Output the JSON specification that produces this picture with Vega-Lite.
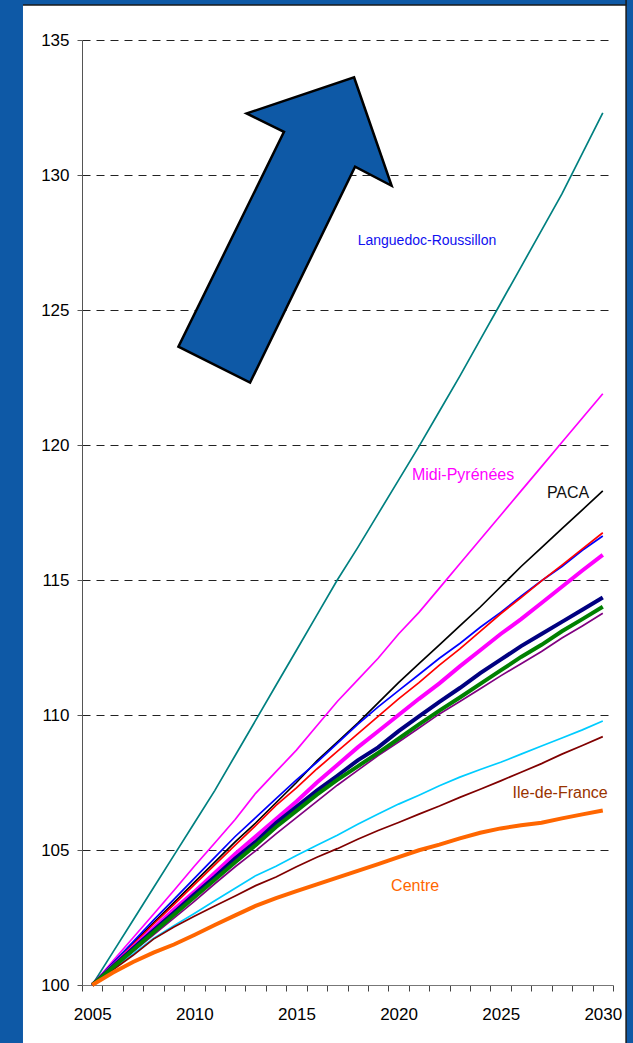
{
  "$schema": "https://vega.github.io/schema/vega-lite/v6.json",
  "width": 531,
  "height": 945,
  "autosize": {"type": "none"},
  "padding": {"left": 82, "top": 40, "right": 20, "bottom": 58},
  "background": "white",
  "config": {"view": {"stroke": null}, "font": "Liberation Sans"},
  "datasets": {
    "series": [
      {"year": 2005, "Série 1": 100, "Midi-Pyrénées": 100, "PACA": 100, "Languedoc-Roussillon": 100, "Série 2": 100, "Série 3": 100, "Série 4": 100, "Série 5": 100, "Série 6": 100, "Série 7": 100, "Ile-de-France": 100, "Centre": 100},
      {"year": 2006, "Série 1": 101.2, "Midi-Pyrénées": 100.88, "PACA": 100.8, "Languedoc-Roussillon": 100.8, "Série 2": 100.75, "Série 3": 100.7, "Série 4": 100.68, "Série 5": 100.65, "Série 6": 100.62, "Série 7": 100.58, "Ile-de-France": 100.55, "Centre": 100.45},
      {"year": 2007, "Série 1": 102.4, "Midi-Pyrénées": 101.75, "PACA": 101.55, "Languedoc-Roussillon": 101.6, "Série 2": 101.5, "Série 3": 101.4, "Série 4": 101.35, "Série 5": 101.3, "Série 6": 101.24, "Série 7": 101.15, "Ile-de-France": 101.1, "Centre": 100.85},
      {"year": 2008, "Série 1": 103.6, "Midi-Pyrénées": 102.62, "PACA": 102.3, "Languedoc-Roussillon": 102.4, "Série 2": 102.25, "Série 3": 102.1, "Série 4": 102.02, "Série 5": 101.95, "Série 6": 101.86, "Série 7": 101.72, "Ile-de-France": 101.7, "Centre": 101.2},
      {"year": 2009, "Série 1": 104.8, "Midi-Pyrénées": 103.5, "PACA": 103.05, "Languedoc-Roussillon": 103.17, "Série 2": 102.98, "Série 3": 102.8, "Série 4": 102.68, "Série 5": 102.6, "Série 6": 102.48, "Série 7": 102.2, "Ile-de-France": 102.15, "Centre": 101.5},
      {"year": 2010, "Série 1": 106.0, "Midi-Pyrénées": 104.4, "PACA": 103.8, "Languedoc-Roussillon": 103.95, "Série 2": 103.72, "Série 3": 103.45, "Série 4": 103.35, "Série 5": 103.25, "Série 6": 103.1, "Série 7": 102.65, "Ile-de-France": 102.55, "Centre": 101.85},
      {"year": 2011, "Série 1": 107.2, "Midi-Pyrénées": 105.26, "PACA": 104.55, "Languedoc-Roussillon": 104.73, "Série 2": 104.45, "Série 3": 104.15, "Série 4": 104.0, "Série 5": 103.9, "Série 6": 103.75, "Série 7": 103.12, "Ile-de-France": 102.93, "Centre": 102.22},
      {"year": 2012, "Série 1": 108.5, "Midi-Pyrénées": 106.13, "PACA": 105.3, "Languedoc-Roussillon": 105.5, "Série 2": 105.18, "Série 3": 104.85, "Série 4": 104.68, "Série 5": 104.55, "Série 6": 104.38, "Série 7": 103.58, "Ile-de-France": 103.3, "Centre": 102.58},
      {"year": 2013, "Série 1": 109.8, "Midi-Pyrénées": 107.1, "PACA": 106.0, "Languedoc-Roussillon": 106.2, "Série 2": 105.9, "Série 3": 105.5, "Série 4": 105.3, "Série 5": 105.18, "Série 6": 104.97, "Série 7": 104.05, "Ile-de-France": 103.68, "Centre": 102.93},
      {"year": 2014, "Série 1": 111.1, "Midi-Pyrénées": 107.9, "PACA": 106.75, "Languedoc-Roussillon": 106.9, "Série 2": 106.65, "Série 3": 106.15, "Série 4": 106.0, "Série 5": 105.85, "Série 6": 105.6, "Série 7": 104.4, "Ile-de-France": 104.0, "Centre": 103.22},
      {"year": 2015, "Série 1": 112.4, "Midi-Pyrénées": 108.7, "PACA": 107.5, "Languedoc-Roussillon": 107.6, "Série 2": 107.3, "Série 3": 106.8, "Série 4": 106.6, "Série 5": 106.45, "Série 6": 106.2, "Série 7": 104.8, "Ile-de-France": 104.38, "Centre": 103.48},
      {"year": 2016, "Série 1": 113.7, "Midi-Pyrénées": 109.6, "PACA": 108.3, "Languedoc-Roussillon": 108.25, "Série 2": 108.0, "Série 3": 107.5, "Série 4": 107.2, "Série 5": 107.05, "Série 6": 106.8, "Série 7": 105.18, "Ile-de-France": 104.73, "Centre": 103.73},
      {"year": 2017, "Série 1": 115.0, "Midi-Pyrénées": 110.5, "PACA": 109.0, "Languedoc-Roussillon": 108.95, "Série 2": 108.65, "Série 3": 108.15, "Série 4": 107.75, "Série 5": 107.6, "Série 6": 107.4, "Série 7": 105.55, "Ile-de-France": 105.05, "Centre": 103.98},
      {"year": 2018, "Série 1": 116.2, "Midi-Pyrénées": 111.3, "PACA": 109.7, "Languedoc-Roussillon": 109.65, "Série 2": 109.3, "Série 3": 108.8, "Série 4": 108.32, "Série 5": 108.1, "Série 6": 107.95, "Série 7": 105.95, "Ile-de-France": 105.4, "Centre": 104.23},
      {"year": 2019, "Série 1": 117.45, "Midi-Pyrénées": 112.1, "PACA": 110.45, "Languedoc-Roussillon": 110.3, "Série 2": 109.95, "Série 3": 109.4, "Série 4": 108.8, "Série 5": 108.6, "Série 6": 108.5, "Série 7": 106.33, "Ile-de-France": 105.72, "Centre": 104.48},
      {"year": 2020, "Série 1": 118.7, "Midi-Pyrénées": 113.0, "PACA": 111.2, "Languedoc-Roussillon": 110.9, "Série 2": 110.6, "Série 3": 110.0, "Série 4": 109.4, "Série 5": 109.12, "Série 6": 109.0, "Série 7": 106.7, "Ile-de-France": 106.02, "Centre": 104.74},
      {"year": 2021, "Série 1": 119.95, "Midi-Pyrénées": 113.8, "PACA": 111.9, "Languedoc-Roussillon": 111.5, "Série 2": 111.2, "Série 3": 110.6, "Série 4": 109.95, "Série 5": 109.65, "Série 6": 109.52, "Série 7": 107.03, "Ile-de-France": 106.33, "Centre": 104.99},
      {"year": 2022, "Série 1": 121.25, "Midi-Pyrénées": 114.7, "PACA": 112.6, "Languedoc-Roussillon": 112.1, "Série 2": 111.85, "Série 3": 111.17, "Série 4": 110.49, "Série 5": 110.16, "Série 6": 110.04, "Série 7": 107.38, "Ile-de-France": 106.63, "Centre": 105.2},
      {"year": 2023, "Série 1": 122.55, "Midi-Pyrénées": 115.6, "PACA": 113.3, "Languedoc-Roussillon": 112.65, "Série 2": 112.45, "Série 3": 111.8, "Série 4": 111.0, "Série 5": 110.65, "Série 6": 110.5, "Série 7": 107.7, "Ile-de-France": 106.95, "Centre": 105.43},
      {"year": 2024, "Série 1": 123.9, "Midi-Pyrénées": 116.5, "PACA": 114.0, "Languedoc-Roussillon": 113.25, "Série 2": 113.1, "Série 3": 112.4, "Série 4": 111.55, "Série 5": 111.15, "Série 6": 110.97, "Série 7": 107.98, "Ile-de-France": 107.25, "Centre": 105.64},
      {"year": 2025, "Série 1": 125.25, "Midi-Pyrénées": 117.4, "PACA": 114.75, "Languedoc-Roussillon": 113.8, "Série 2": 113.75, "Série 3": 113.0, "Série 4": 112.05, "Série 5": 111.65, "Série 6": 111.45, "Série 7": 108.25, "Ile-de-France": 107.56, "Centre": 105.8},
      {"year": 2026, "Série 1": 126.6, "Midi-Pyrénées": 118.3, "PACA": 115.5, "Languedoc-Roussillon": 114.4, "Série 2": 114.35, "Série 3": 113.55, "Série 4": 112.55, "Série 5": 112.15, "Série 6": 111.9, "Série 7": 108.55, "Ile-de-France": 107.88, "Centre": 105.92},
      {"year": 2027, "Série 1": 127.95, "Midi-Pyrénées": 119.2, "PACA": 116.2, "Languedoc-Roussillon": 114.97, "Série 2": 114.97, "Série 3": 114.15, "Série 4": 113.0, "Série 5": 112.6, "Série 6": 112.35, "Série 7": 108.85, "Ile-de-France": 108.2, "Centre": 106.01},
      {"year": 2028, "Série 1": 129.3, "Midi-Pyrénées": 120.1, "PACA": 116.9, "Languedoc-Roussillon": 115.5, "Série 2": 115.55, "Série 3": 114.75, "Série 4": 113.45, "Série 5": 113.1, "Série 6": 112.85, "Série 7": 109.15, "Ile-de-France": 108.55, "Centre": 106.17},
      {"year": 2029, "Série 1": 130.8, "Midi-Pyrénées": 121.0, "PACA": 117.6, "Languedoc-Roussillon": 116.1, "Série 2": 116.15, "Série 3": 115.35, "Série 4": 113.9, "Série 5": 113.55, "Série 6": 113.3, "Série 7": 109.45, "Ile-de-France": 108.87, "Centre": 106.32},
      {"year": 2030, "Série 1": 132.3, "Midi-Pyrénées": 121.9, "PACA": 118.3, "Languedoc-Roussillon": 116.63, "Série 2": 116.75, "Série 3": 115.93, "Série 4": 114.35, "Série 5": 114.01, "Série 6": 113.77, "Série 7": 109.78, "Ile-de-France": 109.2, "Centre": 106.46}
    ],
    "arrow": [
      {"i": 1, "year": 2017.82, "v": 133.62},
      {"i": 2, "year": 2019.66, "v": 129.6},
      {"i": 3, "year": 2017.87, "v": 130.31},
      {"i": 4, "year": 2012.73, "v": 122.31},
      {"i": 5, "year": 2009.22, "v": 123.64},
      {"i": 6, "year": 2014.39, "v": 131.6},
      {"i": 7, "year": 2012.56, "v": 132.28}
    ],
    "labels": [
      {"label": "Languedoc-Roussillon", "year": 2021.39, "v": 127.56},
      {"label": "Midi-Pyrénées", "year": 2023.16, "v": 118.89},
      {"label": "PACA", "year": 2028.3, "v": 118.22},
      {"label": "Ile-de-France", "year": 2027.91, "v": 107.11},
      {"label": "Centre", "year": 2020.81, "v": 103.67}
    ]
  },
  "layer": [
    {
      "data": {"name": "arrow"},
      "mark": {"type": "line", "interpolate": "linear-closed", "fill": "#0E59A6", "stroke": "#000000", "strokeWidth": 2.5, "strokeJoin": "miter"},
      "encoding": {
        "order": {"field": "i", "type": "quantitative"},
        "x": {
          "field": "year", "type": "quantitative",
          "scale": {"domain": [2004.5, 2030.5], "nice": false, "zero": false},
          "axis": {
            "title": null,
            "orient": "bottom",
            "values": [2004.5, 2005.5, 2006.5, 2007.5, 2008.5, 2009.5, 2010.5, 2011.5, 2012.5, 2013.5, 2014.5, 2015.5, 2016.5, 2017.5, 2018.5, 2019.5, 2020.5, 2021.5, 2022.5, 2023.5, 2024.5, 2025.5, 2026.5, 2027.5, 2028.5, 2029.5, 2030.5],
            "labels": false,
            "grid": false,
            "domainColor": "#777777",
            "tickColor": "#444444",
            "tickSize": 6,
            "tickRound": true
          }
        },
        "y": {
          "field": "v", "type": "quantitative",
          "scale": {"domain": [100, 135], "nice": false, "zero": false},
          "axis": {
            "title": null,
            "values": [100, 105, 110, 115, 120, 125, 130, 135],
            "grid": true,
            "gridColor": "#222222",
            "gridDash": [8, 6],
            "gridWidth": 1,
            "domainColor": "#555555",
            "tickColor": "#555555",
            "tickSize": 5,
            "labelPadding": 8,
            "labelFontSize": 17,
            "labelColor": "#000000",
            "labelFont": "Liberation Sans"
          }
        }
      }
    },
    {
      "data": {"name": "series"},
      "transform": [
        {"fold": ["Série 1", "Midi-Pyrénées", "PACA", "Languedoc-Roussillon", "Série 2", "Série 6", "Série 7", "Ile-de-France"], "as": ["key", "v"]}
      ],
      "mark": {"type": "line", "strokeWidth": 1.7},
      "encoding": {
        "x": {"field": "year", "type": "quantitative", "axis": null},
        "y": {"field": "v", "type": "quantitative"},
        "color": {
          "field": "key", "type": "nominal", "legend": null,
          "scale": {
            "domain": ["Série 1", "Midi-Pyrénées", "PACA", "Languedoc-Roussillon", "Série 2", "Série 3", "Série 4", "Série 5", "Série 6", "Série 7", "Ile-de-France", "Centre"],
            "range": ["#008080", "#FF00FF", "#000000", "#0000FF", "#FF0000", "#FF00FF", "#000080", "#008000", "#800080", "#00CCFF", "#800000", "#FF6600"]
          }
        }
      }
    },
    {
      "data": {"name": "series"},
      "transform": [
        {"fold": ["Série 3", "Série 4", "Série 5", "Centre"], "as": ["key", "v"]}
      ],
      "mark": {"type": "line", "strokeWidth": 4},
      "encoding": {
        "x": {"field": "year", "type": "quantitative", "axis": null},
        "y": {"field": "v", "type": "quantitative"},
        "color": {
          "field": "key", "type": "nominal", "legend": null,
          "scale": {
            "domain": ["Série 1", "Midi-Pyrénées", "PACA", "Languedoc-Roussillon", "Série 2", "Série 3", "Série 4", "Série 5", "Série 6", "Série 7", "Ile-de-France", "Centre"],
            "range": ["#008080", "#FF00FF", "#000000", "#0000FF", "#FF0000", "#FF00FF", "#000080", "#008000", "#800080", "#00CCFF", "#800000", "#FF6600"]
          }
        }
      }
    },
    {
      "data": {"name": "labels"},
      "mark": {"type": "text", "align": "center", "baseline": "middle", "font": "Liberation Sans"},
      "encoding": {
        "x": {
          "field": "year", "type": "quantitative",
          "axis": {
            "title": null,
            "orient": "bottom",
            "values": [2005, 2010, 2015, 2020, 2025, 2030],
            "format": "d",
            "ticks": false,
            "tickSize": 0,
            "domain": false,
            "grid": false,
            "labelPadding": 21,
            "labelFontSize": 17,
            "labelColor": "#000000",
            "labelFont": "Liberation Sans",
            "labelFlush": false,
            "labelOverlap": false
          }
        },
        "y": {"field": "v", "type": "quantitative"},
        "text": {"field": "label"},
        "size": {"condition": {"test": "datum.label == 'Languedoc-Roussillon'", "value": 14}, "value": 16},
        "color": {
          "field": "label", "type": "nominal", "legend": null,
          "scale": {
            "domain": ["Languedoc-Roussillon", "Midi-Pyrénées", "PACA", "Ile-de-France", "Centre"],
            "range": ["#1010F0", "#FF00FF", "#111111", "#993300", "#FF6600"]
          }
        }
      }
    },
    {
      "data": {"values": [{}]},
      "mark": {"type": "rect", "fill": "#0E59A6", "stroke": "#1A1A1A", "strokeWidth": 1.5},
      "encoding": {
        "x": {"datum": 1995, "axis": null}, "x2": {"datum": 2040},
        "y": {"datum": 136.3}, "y2": {"datum": 145}
      }
    },
    {
      "data": {"values": [{}]},
      "mark": {"type": "rect", "fill": "#0E59A6", "stroke": "#1A1A1A", "strokeWidth": 1.5},
      "encoding": {
        "x": {"datum": 2031.14, "axis": null}, "x2": {"datum": 2040},
        "y": {"datum": 90}, "y2": {"datum": 145}
      }
    },
    {
      "data": {"values": [{}]},
      "mark": {"type": "rect", "fill": "#0E59A6"},
      "encoding": {
        "x": {"datum": 1995, "axis": null}, "x2": {"datum": 2001.61},
        "y": {"datum": 90}, "y2": {"datum": 145}
      }
    }
  ],
  "resolve": {"scale": {"color": "independent"}, "axis": {"x": "independent"}}
}
